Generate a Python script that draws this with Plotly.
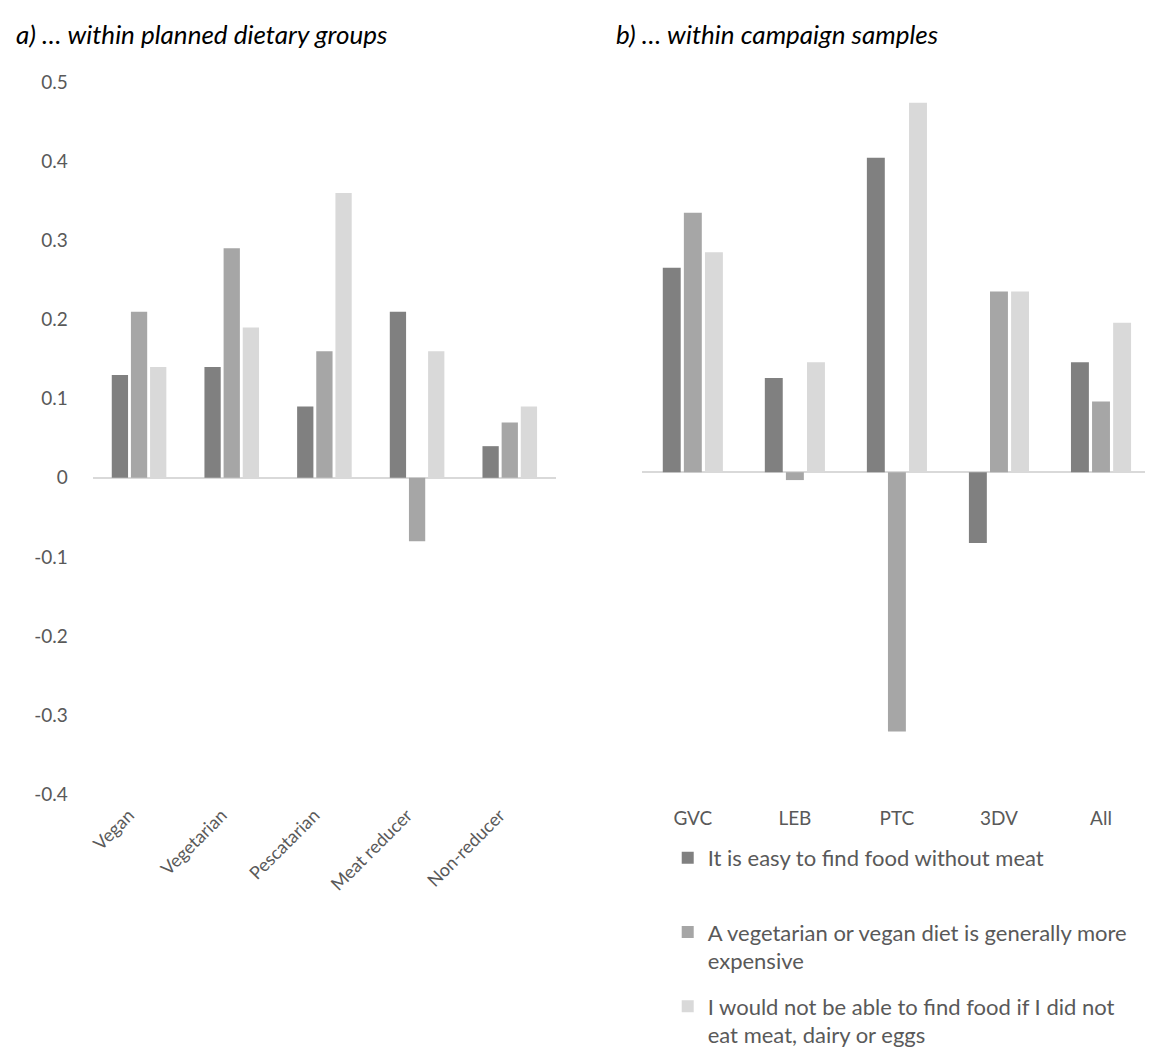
import plotly.graph_objects as go

# данные
diet_groups = ["Vegan", "Vegetarian", "Pescatarian", "Meat reducer", "Non-reducer"]
campaigns = ["GVC", "LEB", "PTC", "3DV", "All"]

series_names = [
    "It is easy to find food without meat<br> ",
    "A vegetarian or vegan diet is generally more<br>expensive",
    "I would not be able to find food if I did not<br>eat meat, dairy or eggs",
]

diet_easy = [0.13, 0.14, 0.09, 0.21, 0.04]
diet_expensive = [0.21, 0.29, 0.16, -0.08, 0.07]
diet_notable = [0.14, 0.19, 0.36, 0.16, 0.09]

camp_easy = [0.26, 0.12, 0.40, -0.09, 0.14]
camp_expensive = [0.33, -0.01, -0.33, 0.23, 0.09]
camp_notable = [0.28, 0.14, 0.47, 0.23, 0.19]

y_ticks = [0.5, 0.4, 0.3, 0.2, 0.1, 0, -0.1, -0.2, -0.3, -0.4]
y_ticktext = ["0.5", "0.4", "0.3", "0.2", "0.1", "0", "-0.1", "-0.2", "-0.3", "-0.4"]

colors = ["#808080", "#a6a6a6", "#d9d9d9"]
FONT = "Lato, 'Open Sans', sans-serif"
GREY = "#595959"

W, H = 1153, 1048

fig = go.Figure()

# a) группы по диете
for i, vals in enumerate([diet_easy, diet_expensive, diet_notable]):
    fig.add_trace(go.Bar(x=diet_groups, y=vals, marker_color=colors[i],
                         marker_line_width=0, showlegend=False,
                         xaxis="x", yaxis="y", hoverinfo="x+y"))

# b) кампании
for i, vals in enumerate([camp_easy, camp_expensive, camp_notable]):
    fig.add_trace(go.Bar(x=campaigns, y=vals, marker_color=colors[i],
                         marker_line_width=0, name=series_names[i],
                         legendgroup=f"g{i}",
                         xaxis="x2", yaxis="y2", hoverinfo="x+y"))

def px_x(a, b):
    return [a / W, b / W]

def px_y(top, bottom):
    return [1 - bottom / H, 1 - top / H]

fig.update_layout(
    width=W, height=H,
    margin=dict(l=0, r=0, t=0, b=0),
    paper_bgcolor="white", plot_bgcolor="white",
    font=dict(family=FONT, color=GREY, size=18),
    barmode="group", bargap=0.38, bargroupgap=0.15,
    xaxis=dict(domain=px_x(81, 546), anchor="y", showgrid=False, showline=False,
               tickangle=-45, tickfont=dict(size=18, color=GREY), ticks="",
               ticklabelstandoff=6, ticklabelshift=-10),
    yaxis=dict(domain=px_y(64, 798), range=[-0.4, 0.5], anchor="x",
               tickvals=y_ticks, ticktext=y_ticktext, showgrid=False, showline=False,
               zeroline=True, zerolinecolor="#d9d9d9", zerolinewidth=2,
               ticks="", ticklabelstandoff=24, tickfont=dict(size=19, color=GREY)),
    xaxis2=dict(domain=px_x(632, 1144), anchor="y2", showgrid=False, showline=False,
                ticks="", ticklabelstandoff=18, tickfont=dict(size=19, color=GREY)),
    yaxis2=dict(domain=px_y(61, 790), range=[-0.4, 0.5], anchor="x2",
                showgrid=False, showline=False, showticklabels=False,
                zeroline=True, zerolinecolor="#d9d9d9", zerolinewidth=2),
    legend=dict(x=658 / W, y=1 - 842 / H, xanchor="left", yanchor="top",
                orientation="v", valign="top", tracegroupgap=14,
                font=dict(size=22, color=GREY, family=FONT),
                itemwidth=30, bgcolor="rgba(0,0,0,0)"),
    shapes=[
        # продолжение линии нуля до края, как в оригинале
        dict(type="line", xref="paper", yref="y2", x0=1144 / W, x1=1, y0=0, y1=0,
             line=dict(color="#d9d9d9", width=2), layer="below"),
    ],
    annotations=[
        dict(text="<i>a) … within planned dietary groups</i>", x=2 / W, y=1 - 14 / H,
             xref="paper", yref="paper", xanchor="left", yanchor="middle",
             showarrow=False, font=dict(size=26, color="#000000", family=FONT)),
        dict(text="<i>b) … within campaign samples</i>", x=604 / W, y=1 - 14 / H,
             xref="paper", yref="paper", xanchor="left", yanchor="middle",
             showarrow=False, font=dict(size=26, color="#000000", family=FONT)),
    ],
)

fig.write_html("out.html")
